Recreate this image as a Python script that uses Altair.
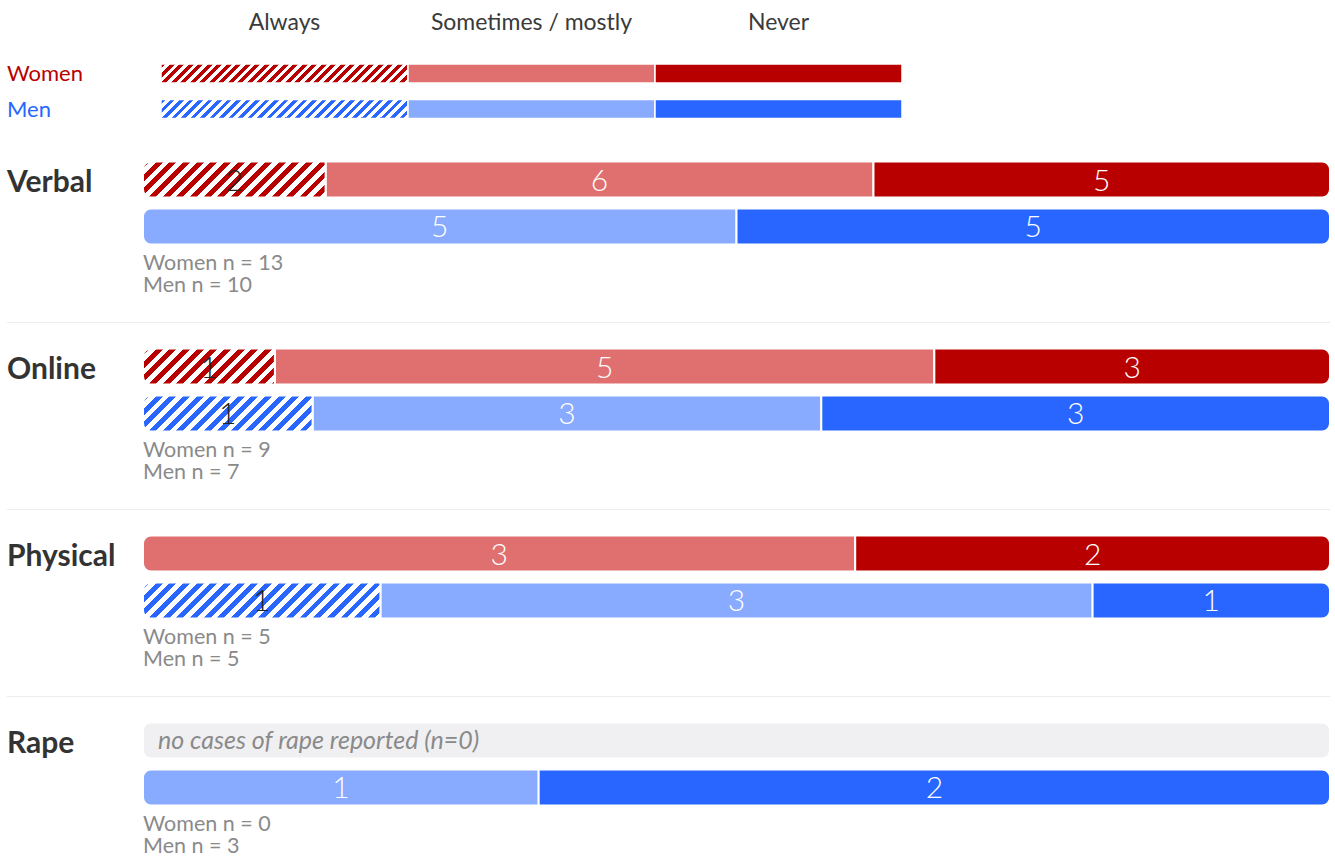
import altair as alt

# ---- data -----------------------------------------------------------------
categories = ["Verbal", "Online", "Physical", "Rape"]
responses = ["Always", "Sometimes / mostly", "Never"]
genders = ["Women", "Men"]

# counts per category, in the order of `responses`
women_counts = [[2, 6, 5], [1, 5, 3], [0, 3, 2], [0, 0, 0]]
men_counts = [[0, 5, 5], [1, 3, 3], [1, 3, 1], [0, 1, 2]]

palette = {
    "Women": ["#b80000", "#e07070", "#b80000"],
    "Men": ["#2866ff", "#88aaff", "#2866ff"],
}
hatched = [True, False, False]  # "Always" is drawn with diagonal hatching
label_colors = ["#222222", "white", "white"]

FONT = "Lato"
BAR_X0, BAR_X1 = 143, 1330
LEG_X0, LEG_X1 = 161, 902
PANEL_W = 1330
BAR_H = 36


def hatch(color, w, h, period_ratio=0.38, duty=0.5):
    """Linear gradient with hard stops that renders '/' stripes on a w x h box."""
    period = period_ratio * h
    span = w + h
    d = w * w + h * h
    stops = []
    s = 0.0
    while s < span:
        a = s / span
        b = min((s + duty * period) / span, 1.0)
        c = min((s + period) / span, 1.0)
        stops += [
            {"offset": a, "color": color},
            {"offset": b, "color": color},
            {"offset": b, "color": "white"},
            {"offset": c, "color": "white"},
        ]
        s += period
    return {
        "gradient": "linear",
        "x1": 0, "y1": 0,
        "x2": w * span / d, "y2": h * span / d,
        "stops": stops,
    }


def segment_rows(ci):
    rows = []
    for g, counts in (("Women", women_counts[ci]), ("Men", men_counts[ci])):
        total = sum(counts)
        nz = [i for i, c in enumerate(counts) if c > 0]
        for i, c in enumerate(counts):
            if c == 0:
                continue
            left = i == nz[0]
            right = i == nz[-1]
            corner = "B" if (left and right) else "L" if left else "R" if right else "N"
            w = c / total * (BAR_X1 - BAR_X0)
            fill = hatch(palette[g][i], w, BAR_H) if hatched[i] else palette[g][i]
            rows.append({
                "gender": g, "response": responses[i], "order": i, "count": c,
                "fill": fill, "tcolor": label_colors[i], "corner": corner,
            })
    return rows


bar_y = alt.Y("gender:N", scale=alt.Scale(domain=genders, range=[26.5, 109.5],
                                          paddingInner=0.234, paddingOuter=0),
              axis=None)
bar_x_scale = alt.Scale(domain=[0, 1], range=[BAR_X0, BAR_X1])

radii = {"N": (0, 0), "L": (8, 0), "R": (0, 8), "B": (8, 8)}


def panel(ci):
    cat = categories[ci]
    rows = segment_rows(ci)
    nw, nm = sum(women_counts[ci]), sum(men_counts[ci])
    layers = []

    if rows:
        base = alt.Chart(alt.Data(values=rows)).transform_joinaggregate(
            total="sum(count)", groupby=["gender"]
        ).transform_window(
            cum="sum(count)", groupby=["gender"], sort=[alt.SortField("order")]
        ).transform_calculate(
            x0="(datum.cum - datum.count) / datum.total",
            x1="datum.cum / datum.total",
            mid="(datum.cum - datum.count / 2) / datum.total",
        )
        for key, (rl, rr) in radii.items():
            if not any(r["corner"] == key for r in rows):
                continue
            layers.append(
                base.transform_filter(alt.datum.corner == key).mark_bar(
                    stroke="white", strokeWidth=2,
                    cornerRadiusTopLeft=rl, cornerRadiusBottomLeft=rl,
                    cornerRadiusTopRight=rr, cornerRadiusBottomRight=rr,
                ).encode(
                    x=alt.X("x0:Q", scale=bar_x_scale, axis=None),
                    x2="x1:Q",
                    y=bar_y,
                    fill=alt.Fill("fill:N", scale=None, legend=None),
                )
            )
        layers.append(
            base.mark_text(font=FONT, fontSize=30, fontWeight=300,
                           baseline="alphabetic", dy=11).encode(
                x=alt.X("mid:Q", scale=bar_x_scale, axis=None),
                y=bar_y,
                text="count:Q",
                color=alt.Color("tcolor:N", scale=None, legend=None),
            )
        )

    if nw == 0:
        empty = alt.Chart(alt.Data(values=[{"gender": "Women", "note": f"no cases of {cat.lower()} reported (n=0)"}]))
        layers.append(
            empty.mark_bar(color="#f0f0f2", cornerRadius=8, stroke="white", strokeWidth=2).encode(
                x=alt.datum(0, scale=bar_x_scale, axis=None), x2=alt.datum(1), y=bar_y
            )
        )
        layers.append(
            empty.mark_text(font=FONT, fontSize=25, fontStyle="italic", color="#8a8a8a",
                            align="left", baseline="alphabetic", dx=15, dy=8).encode(
                x=alt.datum(0), y=bar_y, text="note:N"
            )
        )

    info = alt.Chart(alt.Data(values=[{
        "title": cat, "nw": f"Women n = {nw}", "nm": f"Men n = {nm}"
    }]))
    layers.append(
        info.mark_text(font=FONT, fontSize=30, fontWeight="bold", color="#333333",
                       align="left", baseline="alphabetic").encode(
            x=alt.value(7), y=alt.value(57), text="title:N"
        )
    )
    for field, yy in (("nw", 134.5), ("nm", 156.7)):
        layers.append(
            info.mark_text(font=FONT, fontSize=21.5, color="#8a8a8a",
                           align="left", baseline="alphabetic").encode(
                x=alt.datum(0, scale=bar_x_scale), y=alt.value(yy), text=f"{field}:N"
            )
        )
    if ci > 0:
        layers.append(
            info.mark_rule(color="#ededed", strokeWidth=1).encode(
                x=alt.value(7), x2=alt.value(BAR_X1), y=alt.value(0.5)
            )
        )
    height = 187 if ci < len(categories) - 1 else 162
    return alt.layer(*layers).properties(width=PANEL_W, height=height)


# ---- legend ---------------------------------------------------------------
legend_rows = []
for g in genders:
    for i, r in enumerate(responses):
        fill = (hatch(palette[g][i], (LEG_X1 - LEG_X0) / 3, 19, period_ratio=0.5)
                if hatched[i] else palette[g][i])
        legend_rows.append({"gender": g, "response": r, "i": i, "fill": fill})

leg_x_scale = alt.Scale(domain=[0, 3], range=[LEG_X0, LEG_X1])
leg_y = alt.Y("gender:N", scale=alt.Scale(domain=genders, range=[64, 118.5],
                                          paddingInner=0.4648, paddingOuter=0),
              axis=None)
leg_base = alt.Chart(alt.Data(values=legend_rows))
leg_bars = leg_base.transform_calculate(i1="datum.i + 1").mark_bar(
    stroke="white", strokeWidth=1.5
).encode(
    x=alt.X("i:Q", scale=leg_x_scale, axis=None),
    x2="i1:Q",
    y=leg_y,
    fill=alt.Fill("fill:N", scale=None, legend=None),
)
leg_heads = leg_base.transform_filter(alt.datum.gender == "Women").transform_calculate(
    im="datum.i + 0.5"
).mark_text(font=FONT, fontSize=23, color="#3a3a3a", baseline="alphabetic").encode(
    x=alt.X("im:Q", scale=leg_x_scale, axis=None),
    y=alt.value(30),
    text="response:N",
)
leg_names = alt.Chart(alt.Data(values=[
    {"gender": "Women", "c": "#b80000"}, {"gender": "Men", "c": "#2866ff"}
])).mark_text(font=FONT, fontSize=22, align="left", baseline="alphabetic", dy=8).encode(
    x=alt.value(7), y=leg_y, text="gender:N",
    color=alt.Color("c:N", scale=None, legend=None),
)
legend = alt.layer(leg_bars, leg_heads, leg_names).properties(width=PANEL_W, height=135)

chart = alt.vconcat(
    legend, *[panel(i) for i in range(len(categories))], spacing=0
).properties(padding=0).configure(font=FONT).configure_view(strokeWidth=0, stroke="transparent")

chart.save("out.html", embed_options={"renderer": "svg", "actions": False})
